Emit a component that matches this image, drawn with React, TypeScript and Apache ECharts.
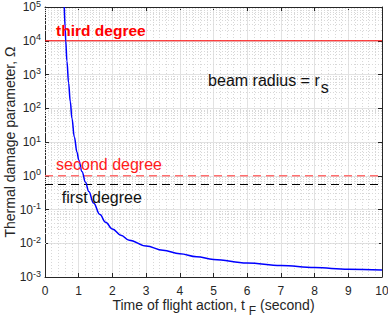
import React, { useEffect, useRef } from "react";
import * as echarts from "echarts";

// Blue curve: thermal damage parameter vs time of flight action
const tValues = [0.573, 0.6, 0.615, 0.65, 0.7, 0.75, 0.8, 0.87, 0.95, 1.0, 1.1, 1.2, 1.3, 1.44, 1.63, 1.8, 2.0, 2.25, 2.5, 3.0, 3.5, 4.0, 4.5, 5.0, 6.0, 7.0, 8.0, 9.0, 10.0];
const omegaValues = [100000, 22400, 10000, 2510, 562, 158, 50, 14.1, 5.0, 2.95, 1.32, 0.646, 0.339, 0.155, 0.0708, 0.0417, 0.0263, 0.0174, 0.0123, 0.0083, 0.0062, 0.0049, 0.004, 0.0033, 0.0026, 0.0022, 0.0019, 0.0017, 0.0016];

// Threshold levels
const thirdDegree = 10000;
const secondDegree = 1;
const firstDegree = 0.55;

// x range
const xMin = 0;
const xMax = 10;
const yMinExp = -3;
const yMaxExp = 5;

// Annotations [x, y, text key]
const annotations = [
  { x: 0.33, y: 19450, key: "third" },
  { x: 0.33, y: 2.15, key: "second" },
  { x: 0.5, y: 0.234, key: "first" },
  { x: 4.84, y: 687, key: "beam" },
];

// x-axis title pieces
const xTitleMain = "Time of flight action, t ";
const xTitleSub = "F";
const xTitleTail = " (second)";

const FONT = "'Liberation Sans', Arial, Helvetica, sans-serif";
const AX = "#262626";

export default function App() {
  const ref = useRef<HTMLDivElement>(null);
  useEffect(() => {
    if (!ref.current) return;
    const chart = echarts.init(ref.current, undefined, { renderer: "svg" });

    const minorY: any[] = [];
    for (let d = yMinExp; d < yMaxExp; d++) {
      for (let k = 2; k <= 9; k++) minorY.push({ yAxis: k * Math.pow(10, d) });
    }

    const hline = (v: number) => [
      [xMin, v],
      [xMax, v],
    ];

    const labelFor = (key: string) => {
      if (key === "third") return { formatter: "third degree", color: "#ff0000", fontSize: 15.5, fontWeight: "bold" };
      if (key === "second") return { formatter: "second degree", color: "#ff1a1a", fontSize: 16 };
      if (key === "first") return { formatter: "first degree", color: "#111111", fontSize: 16 };
      return {
        formatter: "{a|beam radius = r}{s|s}",
        color: "#111111",
        fontSize: 16,
        rich: {
          a: { fontSize: 16, color: "#111111", fontFamily: FONT },
          s: { fontSize: 16, color: "#111111", fontFamily: FONT, padding: [15, 0, 0, 1] },
        },
      };
    };

    chart.setOption({
      animation: false,
      grid: { left: 45, right: 6, top: 7, bottom: 41, show: false, containLabel: false, outerBoundsMode: "none" },
      xAxis: [
        {
          type: "value",
          min: xMin,
          max: xMax,
          interval: 1,
          axisLine: { show: true, onZero: false, lineStyle: { color: AX, width: 1 } },
          axisTick: { show: true, inside: true, length: 4, lineStyle: { color: AX } },
          axisLabel: { color: AX, fontSize: 12, fontFamily: FONT, margin: 8 },
          splitLine: { show: true, lineStyle: { color: "#e2e2e2", width: 1 } },
          minorTick: { show: false, splitNumber: 5 },
          minorSplitLine: { show: true, lineStyle: { color: "#d8d8d8", type: [1, 2], width: 1 } },
        },
        {
          type: "value",
          position: "top",
          min: xMin,
          max: xMax,
          interval: 1,
          axisLine: { show: true, onZero: false, lineStyle: { color: AX, width: 1 } },
          axisTick: { show: true, inside: true, length: 4, lineStyle: { color: AX } },
          axisLabel: { show: false },
          splitLine: { show: false },
        },
      ],
      yAxis: [
        {
          type: "log",
          logBase: 10,
          min: Math.pow(10, yMinExp),
          max: Math.pow(10, yMaxExp),
          splitNumber: 8,
          axisLine: { show: true, onZero: false, lineStyle: { color: AX, width: 1 } },
          axisTick: { show: true, inside: true, length: 4, lineStyle: { color: AX } },
          axisLabel: {
            color: AX,
            fontFamily: FONT,
            margin: 4,
            formatter: (v: number) => `{b|10}{e|${Math.round(Math.log10(v))}}`,
            rich: {
              b: { fontSize: 12, color: AX, fontFamily: FONT },
              e: { fontSize: 9, color: AX, fontFamily: FONT, padding: [0, 0, 7, 0] },
            },
          },
          splitLine: { show: true, lineStyle: { color: "#e2e2e2", width: 1 } },
          name: "Thermal damage parameter, Ω",
          nameLocation: "middle",
          nameGap: 28,
          nameMoveOverlap: false,
          nameTextStyle: { color: AX, fontFamily: FONT, fontSize: 14 },
        },
        {
          type: "log",
          logBase: 10,
          position: "right",
          min: Math.pow(10, yMinExp),
          max: Math.pow(10, yMaxExp),
          splitNumber: 8,
          axisLine: { show: true, onZero: false, lineStyle: { color: AX, width: 1 } },
          axisTick: { show: true, inside: true, length: 4, lineStyle: { color: AX } },
          axisLabel: { show: false },
          splitLine: { show: false },
        },
      ],
      series: [
        {
          type: "line",
          silent: true,
          data: [],
          z: 1,
          markLine: {
            silent: true,
            symbol: "none",
            label: { show: false },
            lineStyle: { color: "#d8d8d8", type: [1, 2], width: 1 },
            data: minorY,
          },
        },
        {
          type: "line",
          data: hline(thirdDegree),
          showSymbol: false,
          z: 3,
          lineStyle: { color: "#ff0000", width: 1.2 },
        },
        {
          type: "line",
          data: hline(secondDegree),
          showSymbol: false,
          z: 3,
          lineStyle: { color: "#ff6f6f", width: 1.5, type: [8, 5] },
        },
        {
          type: "line",
          data: hline(firstDegree),
          showSymbol: false,
          z: 3,
          lineStyle: { color: "#000000", width: 1, type: [8, 5] },
        },
        {
          type: "line",
          data: tValues.map((t, i) => [t, omegaValues[i]]),
          showSymbol: false,
          smooth: 0.4,
          smoothMonotone: "x",
          z: 5,
          lineStyle: { color: "#0000ff", width: 1.5 },
        },
        {
          type: "scatter",
          symbolSize: 0,
          silent: true,
          z: 6,
          data: annotations.map((a) => ({
            value: [a.x, a.y],
            label: {
              show: true,
              position: [0, 0],
              align: "left",
              verticalAlign: "middle",
              fontFamily: FONT,
              textBorderWidth: 0,
              opacity: 1,
              ...labelFor(a.key),
            },
          })),
        },
      ],
    });

    // x-axis title with a lowered subscript, centred under the axis
    const canvas = document.createElement("canvas");
    const ctx = canvas.getContext("2d");
    const measure = (s: string, size: number) => {
      if (!ctx) return s.length * size * 0.5;
      ctx.font = `${size}px ${FONT}`;
      return ctx.measureText(s).width;
    };
    const wMain = measure(xTitleMain, 14);
    const wSub = measure(xTitleSub, 12);
    const wTail = measure(xTitleTail, 14);
    const px0 = chart.convertToPixel({ xAxisIndex: 0 }, xMin) as number;
    const px1 = chart.convertToPixel({ xAxisIndex: 0 }, xMax) as number;
    const axisY = chart.convertToPixel({ yAxisIndex: 0 }, Math.pow(10, yMinExp)) as number;
    const cx = (px0 + px1) / 2;
    const left = cx - (wMain + wSub + wTail) / 2;
    const yMain = axisY + 28;
    const ySub = axisY + 34;
    chart.setOption({
      graphic: [
        {
          type: "text",
          x: left,
          y: yMain,
          silent: true,
          style: { text: xTitleMain, fontSize: 14, fontFamily: FONT, fill: AX, align: "left", verticalAlign: "middle" },
        },
        {
          type: "text",
          x: left + wMain,
          y: ySub,
          silent: true,
          style: { text: xTitleSub, fontSize: 12, fontFamily: FONT, fill: AX, align: "left", verticalAlign: "middle" },
        },
        {
          type: "text",
          x: left + wMain + wSub,
          y: yMain,
          silent: true,
          style: { text: xTitleTail, fontSize: 14, fontFamily: FONT, fill: AX, align: "left", verticalAlign: "middle" },
        },
      ],
    });
    return () => chart.dispose();
  }, []);
  return <div ref={ref} style={{ width: 388, height: 318, position: "absolute", left: 0, top: 0, background: "#fff" }} />;
}
